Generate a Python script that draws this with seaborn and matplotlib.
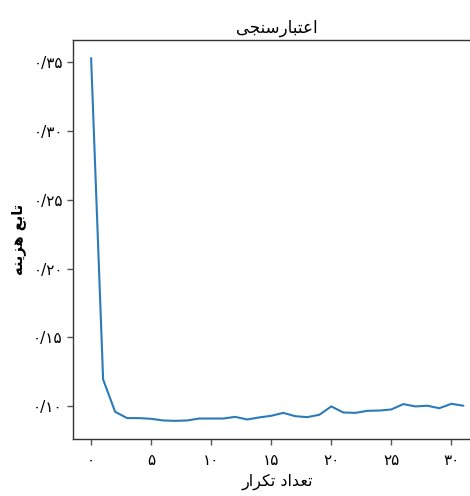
import matplotlib
matplotlib.use("Agg")
import matplotlib.pyplot as plt
import seaborn as sns
import pandas as pd

# Data
iterations = list(range(32))
cost = [0.353, 0.1194, 0.0959, 0.0913, 0.0913, 0.0908, 0.0896, 0.0893,
        0.0896, 0.0910, 0.0910, 0.0910, 0.0922, 0.0903, 0.0918, 0.0930,
        0.0951, 0.0927, 0.0920, 0.0937, 0.0998, 0.0954, 0.0951, 0.0966,
        0.0968, 0.0976, 0.1015, 0.0998, 0.1003, 0.0985, 0.1017, 0.1003]

x_ticks = [0, 5, 10, 15, 20, 25, 30]
x_tick_labels = ["۰", "۵", "۱۰", "۱۵", "۲۰", "۲۵", "۳۰"]
y_ticks = [0.10, 0.15, 0.20, 0.25, 0.30, 0.35]
y_tick_labels = ["۰/۱۰", "۰/۱۵", "۰/۲۰", "۰/۲۵", "۰/۳۰", "۰/۳۵"]

# Pre-shaped (presentation forms, visual order) Persian text
title_text = "\uFEF0\uFEA0\uFEE8\uFEB3\uFEAD\uFE8E\uFE92\uFE98\uFECB\uFE8D"   # اعتبارسنجی
ylabel_text = "\uFEEA\uFEE8\uFEF3\uFEB0\uFEEB \uFECA\uFE91\uFE8E\uFE97"     # تابع هزینه
xlabel_text = "\uFEAD\uFE8D\uFEAE\uFEDC\uFE97 \uFEA9\uFE8D\uFEAA\uFECC\uFE97"  # تعداد تکرار

df = pd.DataFrame({"iter": iterations, "cost": cost})

sns.set_theme(style="ticks")
plt.rcParams['font.family'] = ['DejaVu Sans']

fig = plt.figure(figsize=(4.70, 4.96), dpi=100)
ax = fig.add_axes([72.5 / 470, 57 / 496, (482 - 72.5) / 470, 399 / 496])

sns.lineplot(data=df, x="iter", y="cost", ax=ax, color="#2b7bba", linewidth=1.5)

ax.set_xticks(x_ticks)
ax.set_xticklabels(x_tick_labels, fontsize=11)
ax.set_yticks(y_ticks)
ax.set_yticklabels(y_tick_labels, fontsize=11)
ax.tick_params(axis="x", length=4, width=1, color="#555555", labelcolor="black", pad=6)
ax.tick_params(axis="y", length=4, width=1, color="#555555", labelcolor="black", pad=3)
for s in ax.spines.values():
    s.set_color("#333333")
    s.set_linewidth(1.0)

ax.set_title(title_text, fontsize=12, pad=5, color="black")
ax.set_xlabel(xlabel_text, fontsize=11.5, labelpad=4, color="black")
ax.set_ylabel(ylabel_text, fontsize=10.5, fontweight="bold", labelpad=5, color="black")

fig.savefig("out.png", dpi=100)
